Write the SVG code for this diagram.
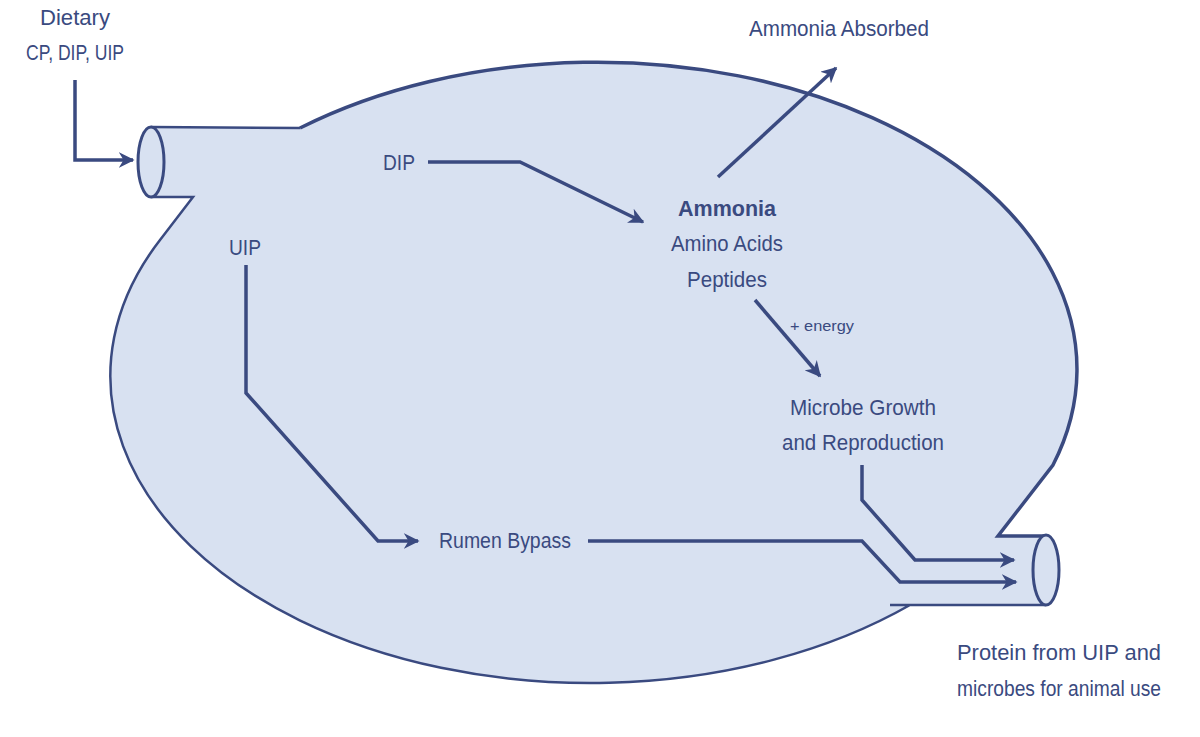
<svg xmlns="http://www.w3.org/2000/svg" width="1200" height="737" viewBox="0 0 1200 737">
<defs>
<marker id="ah" viewBox="0 0 10 10" refX="9" refY="5" markerWidth="4.5" markerHeight="4.5" orient="auto" markerUnits="strokeWidth"><path d="M0,0 L10,5 L0,10 L3,5 Z" fill="#3a4a80"/></marker>
<style>
text{font-family:"Liberation Sans",Arial,sans-serif;font-size:22px;fill:#3a4a80;text-anchor:middle}
.c{fill:none;stroke:#3a4a80;stroke-width:3.5;marker-end:url(#ah)}
.o{stroke:#3a4a80;stroke-width:3;fill:#d8e1f1}
</style>
</defs>
<rect width="1200" height="737" fill="#fff"/>
<g id="rumen">
<path d="M300,128 A480,307 0 0 1 1053,465 L998,536 L1046,536 L1046,605 L910,605 A480,307 0 0 1 160,240 L193,197 L151,197 L151,127 Z" fill="#d8e1f1" stroke="none"/>
<path d="M300,128 A480,307 0 0 1 1053,465 L998,536 L1046,536" fill="none" stroke="#3a4a80" stroke-width="3.5"/>
<path d="M1046,605 L890,605 M910,605 A480,307 0 0 1 160,240 L193,197 L151,197 M151,127 L300,128" fill="none" stroke="#3a4a80" stroke-width="2.5"/>
<ellipse class="o" cx="151" cy="162" rx="13" ry="35"/>
<ellipse class="o" cx="1046" cy="570" rx="13" ry="35"/>
</g>
<g id="connectors">
<path class="c" d="M75,80 V160 H133"/>
<path class="c" d="M428,162 H520 L643,222"/>
<path class="c" d="M718,177 L836,68"/>
<path class="c" d="M755,300 L820,376"/>
<path class="c" d="M246,265 V393 L378,541 H418"/>
<path class="c" d="M588,541 H862 L900,582 H1016"/>
<path class="c" d="M862,465 V500 L915,560 H1014"/>
</g>
<g id="n-dietary"><text x="75" y="25" textLength="70" lengthAdjust="spacingAndGlyphs">Dietary</text><text x="75" y="60" textLength="98" lengthAdjust="spacingAndGlyphs">CP, DIP, UIP</text></g>
<g id="n-absorbed"><text x="839" y="36" textLength="180" lengthAdjust="spacingAndGlyphs">Ammonia Absorbed</text></g>
<g id="n-dip"><text x="399" y="170" textLength="32" lengthAdjust="spacingAndGlyphs">DIP</text></g>
<g id="n-uip"><text x="245" y="255" textLength="32" lengthAdjust="spacingAndGlyphs">UIP</text></g>
<g id="n-ammonia"><text x="727" y="216" font-weight="bold" textLength="98" lengthAdjust="spacingAndGlyphs">Ammonia</text><text x="727" y="251" textLength="112" lengthAdjust="spacingAndGlyphs">Amino Acids</text><text x="727" y="287" textLength="80" lengthAdjust="spacingAndGlyphs">Peptides</text></g>
<g id="n-energy"><text x="822" y="331" style="font-size:15px" textLength="64" lengthAdjust="spacingAndGlyphs">+ energy</text></g>
<g id="n-microbe"><text x="863" y="415" textLength="146" lengthAdjust="spacingAndGlyphs">Microbe Growth</text><text x="863" y="450" textLength="162" lengthAdjust="spacingAndGlyphs">and Reproduction</text></g>
<g id="n-bypass"><text x="505" y="548" textLength="132" lengthAdjust="spacingAndGlyphs">Rumen Bypass</text></g>
<g id="n-protein"><text x="1059" y="660" textLength="204" lengthAdjust="spacingAndGlyphs">Protein from UIP and</text><text x="1059" y="696" textLength="204" lengthAdjust="spacingAndGlyphs">microbes for animal use</text></g>
</svg>
